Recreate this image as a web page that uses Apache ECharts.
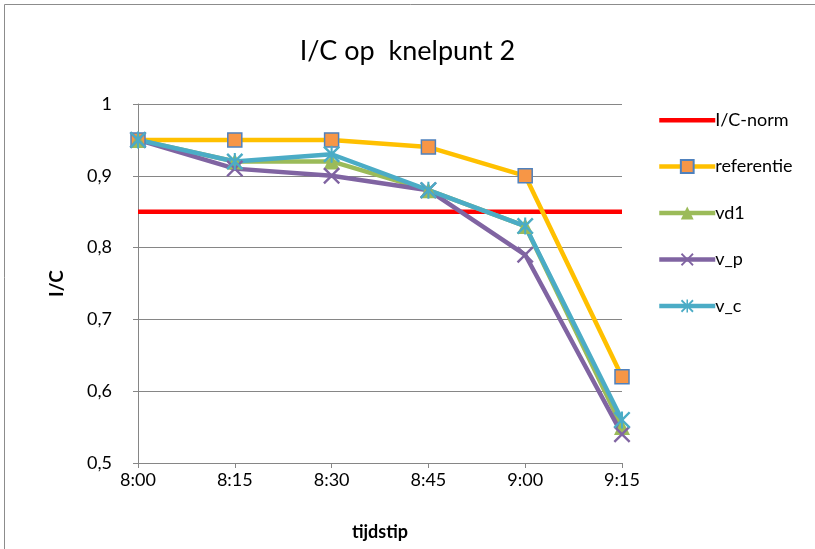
<!DOCTYPE html>
<html>
<head>
<meta charset="utf-8">
<script src="https://cdn.jsdelivr.net/npm/echarts@6/dist/echarts.min.js"></script>
<style>
  html, body { margin: 0; padding: 0; background: #fff; }
  #main { width: 815px; height: 549px; }
</style>
</head>
<body>
<div id="main"></div>
<script>
// data
var times = ['8:00', '8:15', '8:30', '8:45', '9:00', '9:15'];
var icNorm = [0.85, 0.85, 0.85, 0.85, 0.85, 0.85];
var referentie = [0.95, 0.95, 0.95, 0.94, 0.90, 0.62];
var vd1 = [0.95, 0.92, 0.92, 0.88, 0.83, 0.55];
var vP = [0.95, 0.91, 0.90, 0.88, 0.79, 0.54];
var vC = [0.95, 0.92, 0.93, 0.88, 0.83, 0.56];
var yTicks = ['0,5', '0,6', '0,7', '0,8', '0,9', '1'];

var font = 'Lato, "Open Sans", sans-serif';
var crossPath = 'path://M0,1L1,0L5,4L9,0L10,1L6,5L10,9L9,10L5,6L1,10L0,9L4,5Z';
var starPath = 'path://M0,1L1,0L5,4L9,0L10,1L6,5L10,9L9,10L5,6L1,10L0,9L4,5Z M4.4,0L5.6,0L5.6,10L4.4,10Z';
// plain bar for the legend of the norm line (degenerate points keep the box height)
var barPath = 'path://M0,0L0,0Z M0,16L0,16Z M0,6L56,6L56,10.5L0,10.5Z';

var myChart = echarts.init(document.getElementById('main'));
var option = {
  animation: false,
  textStyle: { fontFamily: font },
  graphic: [{
    type: 'rect',
    shape: { x: 4.5, y: 4.5, width: 900, height: 900 },
    style: { fill: 'none', stroke: '#8c8c8c', lineWidth: 1 },
    silent: true
  }],
  title: {
    text: 'I/C op  knelpunt 2',
    left: 'center',
    top: 33,
    textStyle: { fontFamily: font, fontSize: 27, fontWeight: 'normal', color: '#000' }
  },
  legend: {
    orient: 'vertical',
    left: 652,
    top: 106,
    itemWidth: 56,
    itemHeight: 16,
    itemGap: 28.5,
    lineStyle: { width: 4.5 },
    textStyle: { fontFamily: font, fontSize: 18, color: '#000', padding: [0, 0, 0, -5] },
    data: [
      { name: 'I/C-norm', icon: barPath, itemStyle: { color: '#ff0000' } },
      'referentie', 'vd1', 'v_p', 'v_c'
    ]
  },
  grid: { left: 138, right: 193, top: 104, bottom: 86, containLabel: false },
  xAxis: {
    type: 'category',
    boundaryGap: false,
    data: times,
    name: 'tijdstip',
    nameLocation: 'middle',
    nameGap: 60,
    nameTextStyle: { fontFamily: font, fontSize: 18, fontWeight: 'bold', color: '#000' },
    axisLine: { lineStyle: { color: '#868686', width: 1 } },
    axisTick: { show: true, length: 5, lineStyle: { color: '#868686' } },
    axisLabel: { fontFamily: font, fontSize: 18, color: '#000', margin: 8 },
    splitLine: { show: false }
  },
  yAxis: {
    type: 'value',
    min: 0.5,
    max: 1,
    interval: 0.1,
    name: 'I/C',
    nameLocation: 'middle',
    nameGap: 72,
    nameRotate: 90,
    nameTextStyle: { fontFamily: font, fontSize: 19, fontWeight: 'bold', color: '#000' },
    axisLine: { show: true, lineStyle: { color: '#868686', width: 1 } },
    axisTick: { show: true, length: 5, lineStyle: { color: '#868686' } },
    axisLabel: {
      fontFamily: font, fontSize: 18, color: '#000', margin: 26,
      formatter: function (v) { return yTicks[Math.round((v - 0.5) * 10)]; }
    },
    splitLine: { show: true, lineStyle: { color: '#868686', width: 1 } }
  },
  series: [
    {
      name: 'I/C-norm', type: 'line', data: icNorm,
      symbol: 'none', showSymbol: false,
      lineStyle: { color: '#ff0000', width: 4.5 },
      itemStyle: { color: '#ff0000' }
    },
    {
      name: 'referentie', type: 'line', data: referentie,
      symbol: 'rect', symbolSize: 14, showSymbol: true,
      lineStyle: { color: '#ffc000', width: 4.5 },
      itemStyle: { color: '#f79646', borderColor: '#4f81bd', borderWidth: 1.5 }
    },
    {
      name: 'vd1', type: 'line', data: vd1,
      symbol: 'triangle', symbolSize: 16, showSymbol: true,
      lineStyle: { color: '#9bbb59', width: 4.5 },
      itemStyle: { color: '#9bbb59', borderWidth: 0 }
    },
    {
      name: 'v_p', type: 'line', data: vP,
      symbol: crossPath, symbolSize: 17, showSymbol: true,
      lineStyle: { color: '#8064a2', width: 4.5 },
      itemStyle: { color: '#8064a2', borderWidth: 0 }
    },
    {
      name: 'v_c', type: 'line', data: vC,
      symbol: starPath, symbolSize: 17, showSymbol: true,
      lineStyle: { color: '#4bacc6', width: 4.5 },
      itemStyle: { color: '#4bacc6', borderWidth: 0 }
    }
  ]
};
option && myChart.setOption(option);
</script>
</body>
</html>
